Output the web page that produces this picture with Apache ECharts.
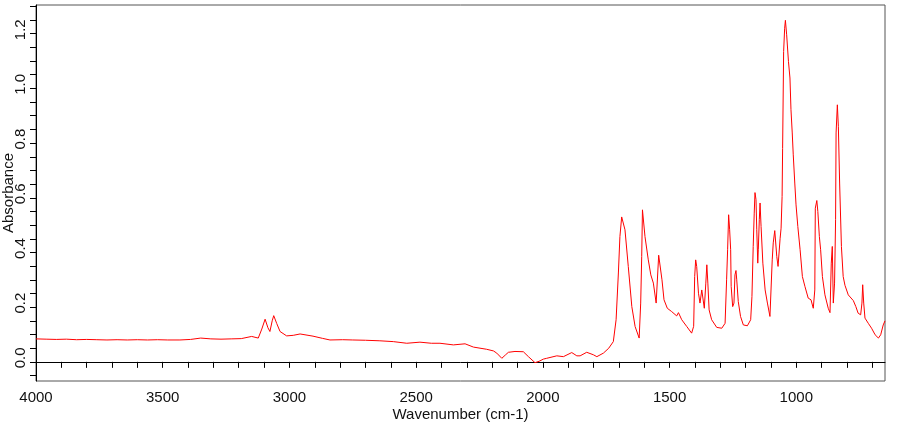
<!DOCTYPE html>
<html>
<head>
<meta charset="utf-8">
<script src="https://cdn.jsdelivr.net/npm/echarts@6/dist/echarts.min.js"></script>
<style>
    html, body { margin: 0; padding: 0; background: #fff; }
    #chart { width: 910px; height: 425px; }
</style>
</head>
<body>
<div id="chart"></div>
<script>
// IR spectrum: wavenumber (cm-1) and absorbance
const wavenumber = [
    4000, 3960, 3920, 3880, 3840, 3800, 3760, 3720, 3680, 3640,
    3600, 3560, 3520, 3480, 3432, 3390, 3350, 3310, 3270, 3230,
    3190, 3149, 3123, 3109, 3096, 3085, 3077, 3068, 3062, 3050,
    3037, 3011, 2985, 2958, 2907, 2870, 2840, 2790, 2750, 2700,
    2643, 2590, 2537, 2485, 2440, 2406, 2353, 2307, 2274, 2222,
    2195, 2182, 2162, 2148, 2136, 2110, 2077, 2057, 2031, 2015,
    1998, 1985, 1945, 1919, 1886, 1866, 1853, 1827, 1801, 1787,
    1761, 1740, 1722, 1711, 1702, 1696, 1689, 1687, 1676, 1663,
    1649, 1636, 1620, 1614, 1610, 1607, 1604, 1597, 1584, 1574,
    1564, 1553, 1547, 1543, 1538, 1530, 1522, 1509, 1492, 1472,
    1465, 1452, 1432, 1413, 1405, 1401, 1397, 1393, 1386, 1380,
    1373, 1368, 1363, 1357, 1353, 1349, 1344, 1334, 1314, 1294,
    1281, 1275, 1271, 1267, 1263, 1259, 1257, 1251, 1246, 1242,
    1238, 1235, 1229, 1220, 1209, 1193, 1180, 1175, 1170, 1166,
    1163, 1159, 1156, 1152, 1150, 1146, 1143, 1139, 1132, 1123,
    1114, 1104, 1100, 1095, 1091, 1085, 1077, 1072, 1064, 1060,
    1056, 1054, 1050, 1046, 1043, 1038, 1031, 1025, 1021, 1016,
    1012, 1006, 1001, 994, 985, 976, 966, 953, 942, 933,
    927, 925, 919, 915, 909, 904, 897, 887, 874, 867,
    862, 858, 854, 849, 845, 843, 838, 834, 829, 822,
    815, 808, 795, 775, 765, 756, 746, 741, 738, 734,
    729, 716, 703, 689, 676, 667, 657, 650
]
const absorbance = [
    0.084, 0.083, 0.082, 0.083, 0.081, 0.082, 0.081, 0.080, 0.081, 0.080,
    0.081, 0.080, 0.081, 0.080, 0.080, 0.082, 0.087, 0.084, 0.083, 0.084,
    0.085, 0.093, 0.087, 0.120, 0.156, 0.125, 0.111, 0.150, 0.169, 0.140,
    0.111, 0.095, 0.097, 0.102, 0.094, 0.086, 0.080, 0.081, 0.080, 0.079,
    0.077, 0.074, 0.068, 0.072, 0.068, 0.068, 0.062, 0.066, 0.054, 0.046,
    0.040, 0.032, 0.013, 0.025, 0.035, 0.038, 0.037, 0.019, -0.003, 0.002,
    0.010, 0.013, 0.022, 0.019, 0.034, 0.022, 0.022, 0.035, 0.026, 0.019,
    0.032, 0.050, 0.074, 0.154, 0.325, 0.458, 0.530, 0.534, 0.483, 0.349,
    0.202, 0.129, 0.087, 0.215, 0.385, 0.556, 0.562, 0.458, 0.373, 0.318,
    0.288, 0.215, 0.209, 0.390, 0.395, 0.300, 0.227, 0.196, 0.184, 0.168,
    0.180, 0.154, 0.129, 0.105, 0.130, 0.312, 0.373, 0.349, 0.251, 0.215,
    0.263, 0.270, 0.196, 0.288, 0.355, 0.288, 0.190, 0.154, 0.126, 0.123,
    0.141, 0.300, 0.410, 0.538, 0.483, 0.410, 0.276, 0.202, 0.215, 0.318,
    0.334, 0.300, 0.221, 0.166, 0.135, 0.132, 0.154, 0.239, 0.422, 0.544,
    0.619, 0.593, 0.483, 0.361, 0.410, 0.520, 0.581, 0.495, 0.361, 0.263,
    0.215, 0.166, 0.170, 0.373, 0.435, 0.480, 0.385, 0.349, 0.450, 0.489,
    0.605, 0.780, 1.135, 1.220, 1.249, 1.196, 1.099, 1.038, 0.922, 0.837,
    0.757, 0.654, 0.574, 0.495, 0.410, 0.312, 0.276, 0.233, 0.227, 0.196,
    0.263, 0.562, 0.590, 0.550, 0.458, 0.410, 0.312, 0.245, 0.196, 0.180,
    0.361, 0.422, 0.215, 0.288, 0.520, 0.837, 0.940, 0.860, 0.654, 0.422,
    0.312, 0.280, 0.245, 0.224, 0.202, 0.178, 0.172, 0.215, 0.282, 0.215,
    0.160, 0.141, 0.123, 0.099, 0.087, 0.099, 0.135, 0.150
]
const xLabels = [1000, 1500, 2000, 2500, 3000, 3500, 4000]
const xTicks = [700, 800, 900, 1000, 1100, 1200, 1300, 1400, 1500, 1600, 1700, 1800, 1900, 2000,
    2100, 2200, 2300, 2400, 2500, 2600, 2700, 2800, 2900, 3000, 3100, 3200, 3300, 3400,
    3500, 3600, 3700, 3800, 3900, 4000]
const yLabels = [0, 0.2, 0.4, 0.6, 0.8, 1.0, 1.2]
const yTicks = [-0.05, 0, 0.05, 0.1, 0.15, 0.2, 0.25, 0.3, 0.35, 0.4, 0.45, 0.5, 0.55, 0.6,
    0.65, 0.7, 0.75, 0.8, 0.85, 0.9, 0.95, 1.0, 1.05, 1.1, 1.15, 1.2, 1.25, 1.3]

const font = 'Liberation Sans, Arial, sans-serif'
const chart = echarts.init(document.getElementById('chart'))
chart.setOption({
    animation: false,
    grid: {
        show: true,
        left: 36,
        right: 25,
        top: 5,
        bottom: 44,
        outerBoundsMode: 'none',
        containLabel: false,
        borderColor: '#555',
        borderWidth: 1,
    },
    xAxis: {
        type: 'value',
        inverse: true,
        min: 650,
        max: 4000,
        name: 'Wavenumber (cm-1)',
        nameLocation: 'middle',
        nameGap: 26,
        nameMoveOverlap: false,
        nameTextStyle: { fontFamily: font, fontSize: 15, color: '#111' },
        axisLine: { lineStyle: { color: '#000', width: 1 } },
        axisTick: { customValues: xTicks, length: 6, lineStyle: { color: '#000' } },
        axisLabel: {
            customValues: xLabels,
            margin: 9,
            fontFamily: font,
            fontSize: 15,
            color: '#111',
            formatter: value => String(value),
        },
        splitLine: { show: false },
    },
    yAxis: {
        type: 'value',
        min: -0.07,
        max: 1.305,
        name: 'Absorbance',
        nameLocation: 'middle',
        nameGap: 20,
        nameRotate: 90,
        nameMoveOverlap: false,
        nameTextStyle: { fontFamily: font, fontSize: 15, color: '#111' },
        axisLine: { show: true, lineStyle: { color: '#000', width: 1 } },
        axisTick: { show: true, customValues: yTicks, length: 6, lineStyle: { color: '#000' } },
        axisLabel: {
            customValues: yLabels,
            rotate: 90,
            margin: 8,
            padding: [0, 0, 0, 8],
            fontFamily: font,
            fontSize: 15,
            color: '#111',
            formatter: value => value.toFixed(1),
        },
        splitLine: { show: false },
    },
    series: [
        {
            type: 'line',
            data: wavenumber.map((w, i) => [w, absorbance[i]]),
            showSymbol: false,
            lineStyle: { color: '#ff0000', width: 1 },
        },
    ],
})
</script>
</body>
</html>
